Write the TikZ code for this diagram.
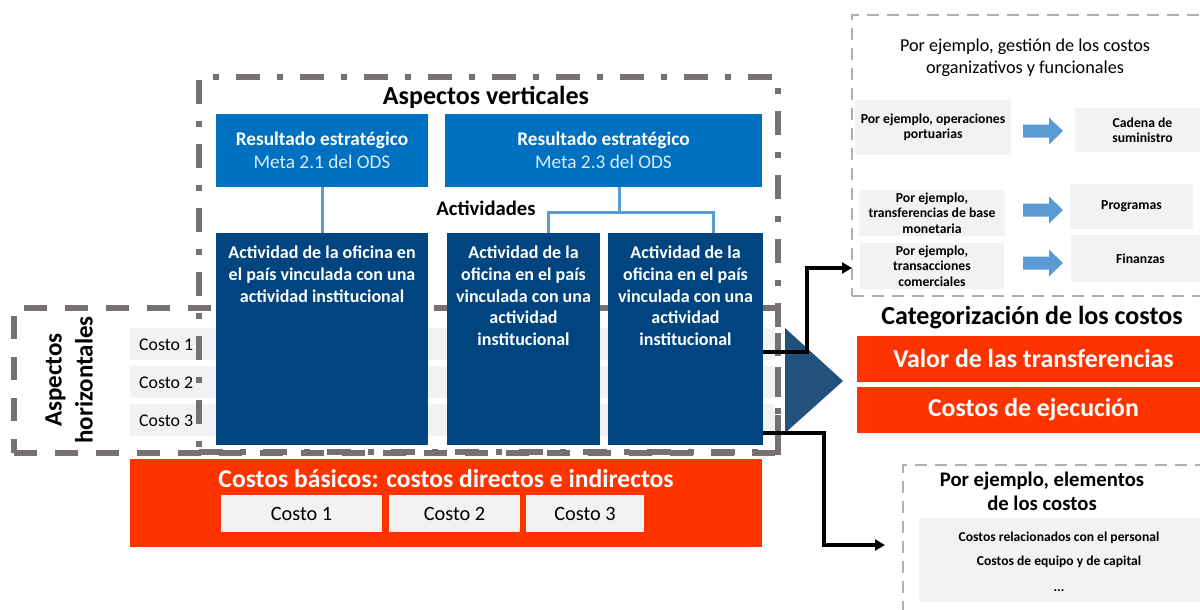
\documentclass[tikz,border=0pt]{standalone}
\usepackage{fontspec}
\setmainfont{Carlito}
\usetikzlibrary{arrows.meta,calc}
\definecolor{dgray}{HTML}{767171}
\definecolor{lgray}{HTML}{B0B0B0}
\definecolor{midblue}{HTML}{0070C0}
\definecolor{navy}{HTML}{004580}
\definecolor{tri}{HTML}{24507C}
\definecolor{orng}{HTML}{FF3300}
\definecolor{pale}{HTML}{F2F2F2}
\definecolor{lineblue}{HTML}{5B9BD5}
\definecolor{metacol}{HTML}{DDEBF7}
\newcommand{\cbox}[7]{\node[#1, inner sep=0pt, outer sep=0pt, minimum width={#5-#3}, minimum height={#6-#4}] (#2) at ({(#3+#5)/2},{(#4+#6)/2}) {#7};}
\newcommand{\barrow}[3]{\fill[lineblue] (#1,#3-6.5) -- (#2-14,#3-6.5) -- (#2-14,#3-13.5) -- (#2,#3) -- (#2-14,#3+13.5) -- (#2-14,#3+6.5) -- (#1,#3+6.5) -- cycle;}
\tikzset{
  vdash/.style={draw=dgray, line width=5.5pt, dash pattern=on 24pt off 17pt on 6pt off 17pt},
  hdash/.style={draw=dgray, line width=5.5pt, dash pattern=on 23pt off 18pt},
  ldash/.style={draw=lgray, line width=2.5pt, dash pattern=on 12pt off 8pt},
  rowbox/.style={fill=pale},
  rowtext/.style={anchor=west, inner sep=0pt, font=\fontsize{17.8}{20}\selectfont},
  resbox/.style={fill=midblue, text=white, align=center, font=\fontsize{19.3}{23}\selectfont},
  actbox/.style={fill=navy},
  acttext/.style={anchor=north, inner sep=0pt, text=white, align=center, font=\bfseries\fontsize{18}{21.7}\selectfont},
  bline/.style={draw=lineblue, line width=3pt},
  bigtitle/.style={inner sep=0pt, font=\bfseries\fontsize{26}{30}\selectfont},
  obox/.style={fill=orng, text=white, font=\bfseries\fontsize{25.8}{30}\selectfont},
  pbox/.style={fill=pale, align=center},
  cfont/.style={font=\fontsize{20.3}{24}\selectfont},
  sfont/.style={font=\bfseries\fontsize{13.7}{15.5}\selectfont},
  conn/.style={draw=black, line width=3.5pt, -{Triangle[length=10pt,width=11pt]}},
}
\begin{document}
\begin{tikzpicture}[x=1pt,y=-1pt]
\clip (0,0) rectangle (1200,610);
\fill[white] (0,0) rectangle (1200,610);
% horizontal cost rows
\cbox{rowbox}{r1}{130}{328}{775}{360}{}
\cbox{rowbox}{r2}{130}{366}{775}{398}{}
\cbox{rowbox}{r3}{130}{404}{775}{436}{}
\node[rowtext] (r1t) at (139,345) {Costo 1};
\node[rowtext] (r2t) at (139,383) {Costo 2};
\node[rowtext] (r3t) at (139,421) {Costo 3};
% dashed frames
\cbox{hdash}{H}{14}{308}{778}{453}{}
\cbox{vdash}{V}{199}{77}{778}{452}{}
\node[bigtitle] (vt) at (486,97) {Aspectos verticales};
\node[bigtitle, rotate=90, align=center, font=\bfseries\fontsize{25}{31}\selectfont] (ht) at (69,380) {Aspectos\\horizontales};
% results
\cbox{resbox}{R1}{216}{114}{428}{187}{\textbf{Resultado estratégico}\\\textcolor{metacol}{Meta 2.1 del ODS}}
\cbox{resbox}{R2}{445}{114}{762}{187}{\textbf{Resultado estratégico}\\\textcolor{metacol}{Meta 2.3 del ODS}}
\node[inner sep=0pt, font=\bfseries\fontsize{20.7}{24}\selectfont] (actt) at (486,208) {Actividades};
% activities
\cbox{actbox}{A}{216}{233}{428}{445}{}
\cbox{actbox}{B}{447}{233}{600}{445}{}
\cbox{actbox}{C}{608}{233}{763}{445}{}
\node[acttext] (At) at ([yshift=-13pt]A.north) {Actividad de la oficina en\\el país vinculada con una\\actividad institucional};
\node[acttext] (Bt) at ([yshift=-13pt]B.north) {Actividad de la\\oficina en el país\\vinculada con una\\actividad\\institucional};
\node[acttext] (Ct) at ([yshift=-13pt]C.north) {Actividad de la\\oficina en el país\\vinculada con una\\actividad\\institucional};
% blue connectors
\coordinate (j) at (619,212);
\coordinate (bj) at (548,212);
\coordinate (cj) at (713,212);
\draw[bline] (R1.south) -- (A.north);
\draw[bline] (R2.south -| j) -- (j);
\draw[bline] (B.north -| bj) -- (bj) -- (cj) -- (C.north -| cj);
% basic costs
\cbox{obox}{O}{130}{459}{762}{547}{}
\node[inner sep=0pt, text=white, font=\bfseries\fontsize{25.6}{30}\selectfont] (Ot) at (446,479) {Costos básicos: costos directos e indirectos};
\cbox{pbox,cfont}{c1}{221}{495}{382}{532}{Costo 1}
\cbox{pbox,cfont}{c2}{389}{495}{520}{532}{Costo 2}
\cbox{pbox,cfont}{c3}{526}{495}{644}{532}{Costo 3}
% big arrow
\fill[tri] (785,328) -- (843,381) -- (785,433) -- cycle;
% categorisation
\node[bigtitle] (cat) at (1032,318) {Categorización de los costos};
\cbox{obox}{VT}{857}{336}{1210}{382}{Valor de las transferencias}
\cbox{obox}{CE}{857}{387}{1210}{433}{Costos de ejecución}
% top right frame
\cbox{ldash}{T}{852}{15}{1215}{296}{}
\node[align=center, inner sep=0pt, font=\fontsize{18.2}{22}\selectfont] (Tt) at (1025,58) {Por ejemplo, gestión de los costos\\organizativos y funcionales};
\cbox{pbox,sfont}{p1}{855}{100}{1011}{155}{Por ejemplo, operaciones\\portuarias}
\cbox{pbox,sfont}{q1}{1075}{108}{1210}{152}{Cadena de\\suministro}
\cbox{pbox,sfont}{p2}{859}{190}{1005}{236}{Por ejemplo,\\transferencias de base\\monetaria}
\cbox{pbox,sfont}{q2}{1070}{184}{1193}{229}{Programas}
\cbox{pbox,sfont}{p3}{860}{243}{1004}{289}{Por ejemplo,\\transacciones\\comerciales}
\cbox{pbox,sfont}{q3}{1071}{235}{1210}{282}{Finanzas}
\barrow{1023}{1063}{131}
\barrow{1023}{1063}{210}
\barrow{1023}{1063}{263}
% bottom right frame
\cbox{ldash}{E}{903}{465}{1215}{625}{}
\node[align=center, inner sep=0pt, font=\bfseries\fontsize{20.7}{24}\selectfont] (Et) at (1042,491) {Por ejemplo, elementos\\de los costos};
\cbox{pbox}{EI}{919}{518}{1210}{602}{}
\node[align=center, inner sep=0pt, font=\bfseries\fontsize{13.6}{24}\selectfont] (Ei) at (1059,562) {Costos relacionados con el personal\\Costos de equipo y de capital\\[2pt]...};
% black connectors
\coordinate (lowend) at (885,545);
\draw[conn] (C.east |- 0,352) -| (807,268) -- (T.west |- 0,268);
\draw[conn] (C.east |- 0,433) -| (824,545) -- (lowend);
\end{tikzpicture}
\end{document}
